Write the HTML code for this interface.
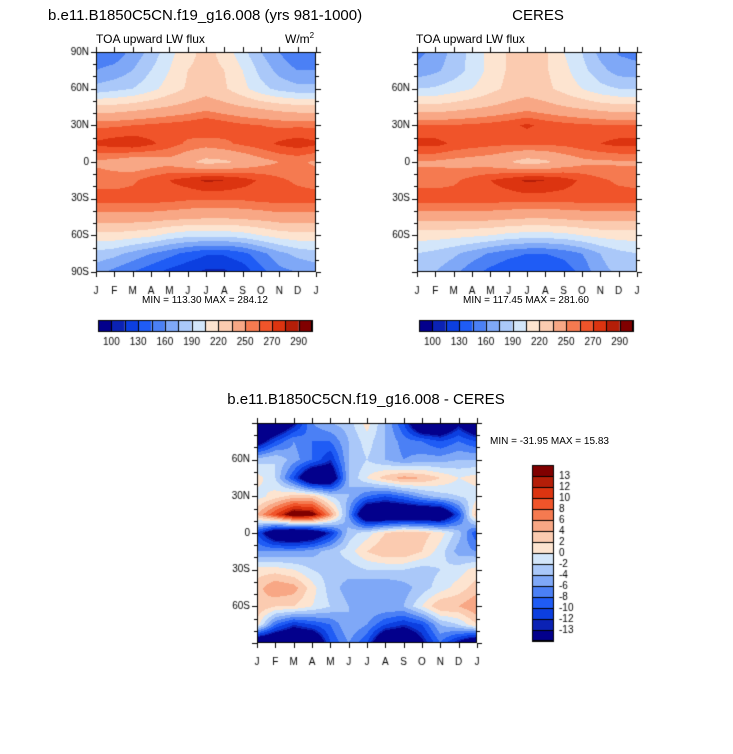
<!DOCTYPE html>
<html><head><meta charset="utf-8">
<style>
html,body{margin:0;padding:0;background:#fff;}
body{width:733px;height:754px;position:relative;overflow:hidden;font-family:"Liberation Sans",Arial,sans-serif;color:#000;}
canvas{position:absolute;left:0;top:0;}
.t{position:absolute;white-space:nowrap;}
</style></head>
<body>
<canvas id="cv" width="733" height="754"></canvas>
<div class="t" style="left:48px;top:7px;font-size:15px;">b.e11.B1850C5CN.f19_g16.008 (yrs 981-1000)</div>
<div class="t" style="left:498px;top:7px;font-size:15px;width:80px;text-align:center;">CERES</div>
<div class="t" style="left:96px;top:32px;font-size:12px;">TOA upward LW flux</div>
<div class="t" style="left:285px;top:31px;font-size:12px;">W/m<sup style="font-size:8px">2</sup></div>
<div class="t" style="left:416px;top:32px;font-size:12px;">TOA upward LW flux</div>
<div class="t" style="left:105px;top:295px;width:200px;text-align:center;font-size:10px;">MIN = 113.30 MAX = 284.12</div>
<div class="t" style="left:426px;top:295px;width:200px;text-align:center;font-size:10px;">MIN = 117.45 MAX = 281.60</div>
<div class="t" style="left:216px;top:391px;width:300px;text-align:center;font-size:15px;">b.e11.B1850C5CN.f19_g16.008 - CERES</div>
<div class="t" style="left:490px;top:436px;font-size:10px;">MIN = -31.95 MAX =  15.83</div>
<script>
// ---- data ----
const months = ["J","F","M","A","M","J","J","A","S","O","N","D","J"];
const lats = [90,75,60,45,30,15,0,-15,-30,-45,-60,-75,-90];
const latTickValues = [90,60,30,0,-30,-60,-90];
const latTickLabels = ["90N","60N","30N","0","30S","60S","90S"];
const topLevels = [100,115,130,145,160,175,190,205,220,235,250,260,270,280,290];
const topLevelLabels = ["100","130","160","190","220","250","270","290"];
const diffLevels = [-13,-12,-10,-8,-6,-4,-2,0,2,4,6,8,10,12,13];
const diffLevelLabels = ["-13","-12","-10","-8","-6","-4","-2","0","2","4","6","8","10","12","13"];
const modelField = [
[150,150,165,180,200,215,225,215,195,175,160,145,150],
[160,165,175,190,205,220,225,220,205,185,170,160,160],
[180,185,190,200,212,222,228,222,210,195,185,180,180],
[225,225,228,232,236,240,245,240,236,232,228,225,225],
[258,258,260,262,264,266,270,266,262,260,258,258,258],
[272,276,278,272,265,258,255,258,262,266,272,276,272],
[248,245,240,242,245,238,230,232,238,245,250,252,248],
[255,255,258,265,270,275,282,280,275,268,262,258,255],
[265,265,265,265,264,262,262,262,262,264,265,265,265],
[245,245,245,244,242,240,238,238,240,242,245,245,245],
[215,215,212,208,200,195,195,195,198,205,212,215,215],
[185,180,170,160,150,140,132,132,140,155,170,180,185],
[165,155,145,135,125,118,112,112,120,140,155,160,165]];
const ceresField = [
[155,165,180,195,210,222,225,222,205,190,170,158,155],
[165,172,182,195,210,222,226,222,210,195,180,168,165],
[190,192,198,205,215,224,228,224,215,205,195,190,190],
[225,225,228,232,236,240,244,240,236,232,228,225,225],
[260,260,261,262,264,267,272,267,264,262,261,260,260],
[274,274,268,265,263,262,262,262,263,266,270,274,274],
[248,248,246,244,242,236,228,232,240,246,248,248,248],
[256,256,258,264,270,275,282,280,275,268,262,258,256],
[265,265,265,265,265,265,265,265,265,265,265,265,265],
[242,242,242,242,242,240,238,238,240,242,242,242,242],
[212,212,210,208,205,200,198,198,200,205,210,212,212],
[190,185,178,168,158,150,145,145,150,160,175,185,190],
[180,175,165,150,140,132,130,130,135,150,170,178,180]];
const diffField = [
[-20,-20,-14,-6,-4,-3,1,-4,-10,-20,-20,-14,-20],
[-16,-10,-6,-8,-8,-4,-1,-4,-7,-8,-10,-8,-10],
[-3,-2,-5,-8,-12,-4,-2,-4,-6,-5,-5,-4,-4],
[1,-2,-10,-20,-18,-4,0,3,5,4,2,0,1],
[-1,1,3,3,-2,-4,-8,-10,-8,-5,-3,-2,-1],
[4,10,16,15,6,-6,-20,-20,-20,-20,-20,-10,4],
[-10,-18,-20,-18,-12,-3,-1,2,4,3,1,-3,-10],
[-6,-6,-6,-5,-3,-1,2,4,4,2,-1,-5,-6],
[1,1,0,-2,-3,-3,-2,-2,-2,-3,-2,-1,1],
[3,6,5,1,-3,-5,-6,-6,-5,-3,-1,1,3],
[4,2,2,0,-2,-4,-4,-4,-4,0,4,4,6],
[1,-8,-12,-10,-8,-4,-6,-10,-12,-10,-4,-2,2],
[-20,-20,-20,-20,-10,-6,-10,-20,-20,-14,-8,-14,-20]];
const palette = ["#03008c","#0b22b4","#0c3fe0","#1f5cf5","#4b80f5","#7fa8f7","#aac8f9","#d3e6fa","#fde4d0","#fbcbb0","#f8a785","#f57a50","#f0542a","#dc3410","#b41e08","#800000"];

const cv = document.getElementById('cv');
const ctx = cv.getContext('2d');
function hex(c){return [parseInt(c.substr(1,2),16),parseInt(c.substr(3,2),16),parseInt(c.substr(5,2),16)];}
const palRGB = palette.map(hex);
function levelIndex(v,levels){let i=0;while(i<levels.length&&v>=levels[i])i++;return i;}
function sample(field,fx,fy){
  const x0=Math.min(Math.floor(fx),11),y0=Math.min(Math.floor(fy),11);
  const tx=fx-x0,ty=fy-y0;
  const a=field[y0][x0],b=field[y0][x0+1],c=field[y0+1][x0],d=field[y0+1][x0+1];
  return (a*(1-tx)+b*tx)*(1-ty)+(c*(1-tx)+d*tx)*ty;
}
function drawPanel(field,levels,X,Y,W,H,showEnds){
  const xs=v=>X+v*W/12;
  const ys=lat=>Y+(90-lat)*H/180;
  const img=ctx.createImageData(W,H);
  for(let j=0;j<H;j++){for(let i=0;i<W;i++){
    const fx=(i+0.5)/W*(months.length-1);
    const fy=(j+0.5)/H*(lats.length-1);
    const col=palRGB[levelIndex(sample(field,fx,fy),levels)];
    const k=(j*W+i)*4;img.data[k]=col[0];img.data[k+1]=col[1];img.data[k+2]=col[2];img.data[k+3]=255;
  }}
  ctx.putImageData(img,X,Y);
  ctx.strokeStyle="#000";ctx.lineWidth=1;
  ctx.strokeRect(X+0.5,Y+0.5,W-1,H-1);
  ctx.beginPath();
  months.forEach((m,i)=>{const x=Math.round(xs(i))+0.5;ctx.moveTo(x,Y);ctx.lineTo(x,Y-5);ctx.moveTo(x,Y+H);ctx.lineTo(x,Y+H+5);});
  for(let l=-90;l<=90;l+=10){const y=Math.round(ys(l))+0.5;const len=(l%30===0)?5:3;ctx.moveTo(X,y);ctx.lineTo(X-len,y);ctx.moveTo(X+W,y);ctx.lineTo(X+W+len,y);}
  ctx.stroke();
  ctx.fillStyle="#000";ctx.font="10px 'Liberation Sans', Arial, sans-serif";
  ctx.textAlign="center";ctx.textBaseline="top";
  months.forEach((m,i)=>ctx.fillText(m,xs(i),Y+H+14));
  ctx.textAlign="right";ctx.textBaseline="middle";
  latTickValues.forEach((l,i)=>{if(!showEnds&&Math.abs(l)===90)return;ctx.fillText(latTickLabels[i],X-7,ys(l));});
}
function drawHBar(X,Y,W,H){
  const n=palette.length,bw=W/n;
  palette.forEach((c,i)=>{ctx.fillStyle=c;ctx.fillRect(X+i*bw,Y,bw,H);});
  ctx.strokeStyle="#000";ctx.beginPath();
  for(let i=0;i<=n;i++){const x=Math.round(X+i*bw)+0.5;ctx.moveTo(x,Y);ctx.lineTo(x,Y+H);}
  ctx.rect(X+0.5,Y+0.5,W-1,H-1);ctx.stroke();
  ctx.fillStyle="#000";ctx.font="10px 'Liberation Sans', Arial, sans-serif";ctx.textAlign="center";ctx.textBaseline="top";
  topLevelLabels.forEach((t,i)=>ctx.fillText(t,X+(1+2*i)*bw,Y+17));
}
function drawVBar(X,Y,W,H){
  const n=palette.length,bh=H/n;
  palette.forEach((c,i)=>{ctx.fillStyle=c;ctx.fillRect(X,Y+(n-1-i)*bh,W,bh);});
  ctx.strokeStyle="#000";ctx.beginPath();
  for(let i=0;i<=n;i++){const y=Math.round(Y+i*bh)+0.5;ctx.moveTo(X,y);ctx.lineTo(X+W,y);}
  ctx.rect(X+0.5,Y+0.5,W-1,H-1);ctx.stroke();
  ctx.fillStyle="#000";ctx.font="10px 'Liberation Sans', Arial, sans-serif";ctx.textAlign="left";ctx.textBaseline="middle";
  diffLevelLabels.forEach((t,i)=>ctx.fillText(t,X+W+5,Y+(n-1-i)*bh));
}
drawPanel(modelField,topLevels,96,52,220,220,true);
drawPanel(ceresField,topLevels,417,52,220,220,false);
drawPanel(diffField,diffLevels,257,423,220,220,false);
drawHBar(98,320,214,12);
drawHBar(419,320,214,12);
drawVBar(532,465,22,176);
</script>
</body></html>
